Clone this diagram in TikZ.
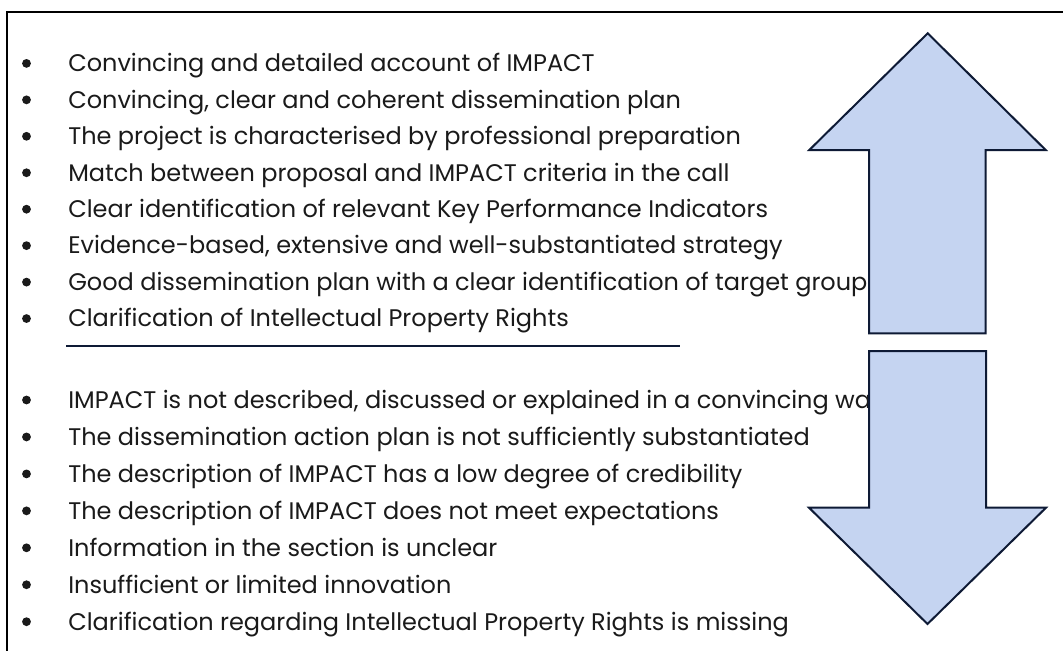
\documentclass[tikz,border=0pt]{standalone}
\usepackage{fontspec}
\setmainfont{Poppins}
\definecolor{arrowfill}{HTML}{C5D4F1}
\definecolor{navy}{HTML}{0E1A35}
\definecolor{txt}{HTML}{1A1A1A}
\begin{document}
\begin{tikzpicture}[x=0.75pt,y=-0.75pt,
  item/.style={anchor=base west,inner sep=0pt,text=txt,font=\fontsize{18}{21}\selectfont},
  dot/.style={circle,fill=txt,inner sep=0pt,minimum size=6.6pt},
  bigarrow/.style={draw=navy,fill=arrowfill,line width=1.5pt,line join=miter}]
\useasboundingbox (0,0) rectangle (1063,650);
\fill[white] (0,0) rectangle (1063,650);
\draw[line width=1.6pt,black] (7,652) -- (7,12) -- (1065,12);
% group 1
\foreach \i/\t in {0/{Convincing and detailed account of IMPACT},
  1/{Convincing, clear and coherent dissemination plan},
  2/{The project is characterised by professional preparation},
  3/{Match between proposal and IMPACT criteria in the call},
  4/{Clear identification of relevant Key Performance Indicators},
  5/{Evidence-based, extensive and well-substantiated strategy},
  6/{Good dissemination plan with a clear identification of target group(s)},
  7/{Clarification of Intellectual Property Rights}}{
  \node[dot] (pb\i) at (26.5,{63.4+36.45*\i}) {};
  \node[item] (pt\i) at (68,{71.7+36.45*\i}) {\t};
}
\coordinate (u1) at (66,346);
\coordinate (u2) at (680,346);
\draw[navy,line width=1.5pt] (u1) -- (u2);
% group 2
\foreach \i/\t in {0/{IMPACT is not described, discussed or explained in a convincing way},
  1/{The dissemination action plan is not sufficiently substantiated},
  2/{The description of IMPACT has a low degree of credibility},
  3/{The description of IMPACT does not meet expectations},
  4/{Information in the section is unclear},
  5/{Insufficient or limited innovation},
  6/{Clarification regarding Intellectual Property Rights is missing}}{
  \node[dot] (nb\i) at (26.5,{400+36.95*\i}) {};
  \node[item] (nt\i) at (68,{408.3+36.95*\i}) {\t};
}
% arrows
\draw[bigarrow] (927.7,33.3) -- (1045.7,150) -- (985.7,150) -- (985.7,333.3)
  -- (869,333.3) -- (869,150) -- (809.3,150) -- cycle;
\draw[bigarrow] (869,351) -- (986,351) -- (986,507.7) -- (1046,507.7)
  -- (927.5,624) -- (809,507.7) -- (869,507.7) -- cycle;
\end{tikzpicture}
\end{document}
